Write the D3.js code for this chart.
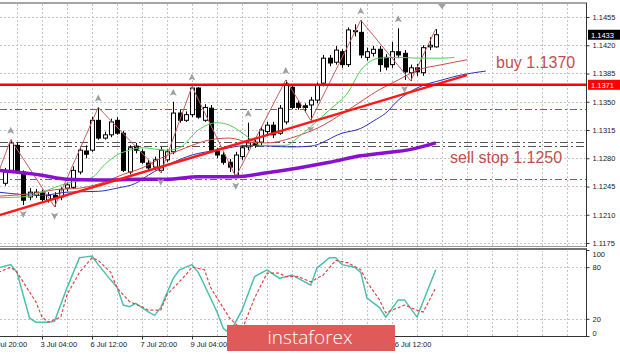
<!DOCTYPE html>
<html>
<head>
<meta charset="utf-8">
<script src="https://cdnjs.cloudflare.com/ajax/libs/d3/7.8.5/d3.min.js"></script>
<style>
body { margin: 0; background: #fff; }
svg { display: block; font-family: "Liberation Sans", Arial, sans-serif; }
</style>
</head>
<body>
<svg id="chart" width="620" height="354"></svg>
<script>
// candles, index 0 = first full bar on the left
const opens = [1.1249,1.1265,1.1296,1.1263,1.1232,1.1234,1.1237,1.1228,1.1234,1.1232,
    1.1243,1.1244,1.1263,1.1289,1.1290,1.1327,1.1305,1.1309,1.1327,1.1311,
    1.1263,1.1295,1.1288,1.1274,1.1269,1.1265,1.1278,1.1288,1.1336,1.1327,
    1.1334,1.1367,1.1327,1.1342,1.1289,1.1284,1.1275,1.1259,1.1282,1.1294,
    1.1300,1.1300,1.1313,1.1321,1.1311,1.1325,1.1368,1.1348,1.1345,1.1346,
    1.1352,1.1373,1.1404,1.1399,1.1412,1.1396,1.1437,1.1436,1.1405,1.1410,
    1.1415,1.1405,1.1396,1.1412,1.1410,1.1386,1.1392,1.1386,1.1418,1.1418];
const highs = [1.1268,1.1303,1.1299,1.1265,1.1243,1.1242,1.1241,1.1238,1.1238,1.1244,
    1.1250,1.1270,1.1294,1.1296,1.1331,1.1343,1.1313,1.1329,1.1331,1.1314,
    1.1296,1.1299,1.1291,1.1278,1.1282,1.1294,1.1291,1.1350,1.1340,1.1338,
    1.1369,1.1368,1.1347,1.1346,1.1293,1.1288,1.1279,1.1288,1.1296,1.1324,
    1.1304,1.1319,1.1325,1.1325,1.1346,1.1377,1.1371,1.1352,1.1348,1.1356,
    1.1374,1.1408,1.1408,1.1419,1.1415,1.1442,1.1446,1.1451,1.1417,1.1419,
    1.1419,1.1409,1.1424,1.1441,1.1414,1.1396,1.1397,1.1420,1.1430,1.1440];
const lows = [1.1246,1.1263,1.1263,1.1222,1.1228,1.1231,1.1226,1.1225,1.1220,1.1228,
    1.1239,1.1242,1.1260,1.1280,1.1288,1.1303,1.1303,1.1306,1.1309,1.1263,
    1.1260,1.1286,1.1273,1.1264,1.1265,1.1262,1.1275,1.1285,1.1324,1.1325,
    1.1331,1.1329,1.1325,1.1288,1.1280,1.1272,1.1263,1.1257,1.1278,1.1290,
    1.1293,1.1296,1.1309,1.1305,1.1309,1.1322,1.1341,1.1340,1.1337,1.1327,
    1.1348,1.1369,1.1394,1.1396,1.1392,1.1393,1.1431,1.1404,1.1401,1.1406,
    1.1387,1.1389,1.1392,1.1404,1.1377,1.1376,1.1382,1.1382,1.1414,1.1417];
const closes = [1.1263,1.1299,1.1265,1.1228,1.1238,1.1238,1.1229,1.1234,1.1231,1.1241,
    1.1247,1.1265,1.1290,1.1285,1.1327,1.1305,1.1309,1.1325,1.1311,1.1265,
    1.1293,1.1290,1.1275,1.1268,1.1278,1.1290,1.1288,1.1336,1.1327,1.1334,
    1.1367,1.1331,1.1343,1.1290,1.1284,1.1275,1.1269,1.1284,1.1293,1.1299,
    1.1296,1.1315,1.1321,1.1309,1.1342,1.1372,1.1343,1.1343,1.1343,1.1352,
    1.1371,1.1404,1.1398,1.1414,1.1396,1.1439,1.1438,1.1408,1.1412,1.1415,
    1.1396,1.1393,1.1412,1.1408,1.1387,1.1392,1.1387,1.1417,1.1420,1.1433];

// indicator lines as [bar index, price]
const maSlow = [[-1,1.1265],[6,1.1259],[10,1.1254],[15,1.1253],[22,1.1254],[26,1.1254],[31,1.1257],
    [37,1.1257],[42,1.1262],[47,1.1268],[52,1.1275],[57,1.1283],[60,1.1286],[65,1.1291],[69,1.1299]];
const jaw = [[-1,1.1238],[6,1.1234],[10,1.1238],[15,1.1239],[18,1.1243],[21,1.1249],[23,1.1259],
    [27,1.1275],[30,1.1284],[34,1.1290],[39,1.1296],[46,1.1294],[49,1.1295],[54,1.1311],[57,1.1317],
    [59,1.1326],[61,1.1336],[63,1.1352],[66,1.1367],[70,1.1377],[73,1.1383],[77,1.1388]];
const teeth = [[-1,1.1233],[5,1.1237],[8,1.1241],[12,1.1243],[15,1.1248],[19,1.1260],[22,1.1268],
    [25,1.1280],[29,1.1293],[33,1.1303],[36,1.1305],[39,1.1300],[42,1.1299],[47,1.1308],[50,1.1317],
    [55,1.1340],[60,1.1365],[63,1.1377],[66,1.1389],[70,1.1396],[74,1.1402]];
const lips = [[-1,1.1231],[4,1.1233],[6,1.1238],[10,1.1249],[14,1.1256],[16,1.1272],[18,1.1284],
    [20,1.1290],[22,1.1293],[26,1.1290],[28,1.1293],[31,1.1315],[34,1.1324],[36,1.1321],[39,1.1306],
    [41,1.1296],[45,1.1296],[47,1.1306],[49,1.1319],[52,1.1340],[55,1.1362],[57,1.1389],[60,1.1404],
    [63,1.1405],[66,1.1404],[70,1.1404],[72,1.1405]];
const zigzag = [[-1,1.1262],[1,1.1303],[8,1.1220],[15,1.1343],[25,1.1262],[30,1.1369],[37,1.1257],
    [45,1.1377],[49,1.1327],[57,1.1451],[65,1.1376],[69,1.1440]];
const fracUp = [1, 15, 27, 30, 39, 45, 57, 63];
const fracDown = [3, 8, 25, 37, 49, 64];

const trendLine = [[-1,1.1209],[74,1.1383]];
const buyLevel = 1.1371;
const greenLevels = [1.1341, 1.1254];
const grayLevels = [1.1300, 1.1295];
const lastPrice = 1.1433;

// stochastic
const stochK = [[-1,79],[1,83],[2,74],[4,21],[5,16],[7,16],[8,17],[10,56],[12,91],[13,92],[14,93],
    [15,83],[17,65],[18,57],[19,36],[20,34],[21,38],[23,28],[24,24],[25,33],[27,67],[28,77],[30,83],
    [31,74],[32,59],[34,28],[35,9],[36,3],[38,30],[40,69],[42,77],[44,67],[46,71],[47,67],[49,59],
    [50,79],[52,91],[53,91],[54,83],[56,80],[57,74],[58,44],[60,33],[61,22],[63,42],[64,42],[66,22],[69,77]];
const stochD = [[-1,74],[1,80],[2,74],[5,40],[6,22],[7,16],[9,22],[10,48],[12,74],[14,91],[15,88],
    [17,74],[18,56],[20,40],[22,34],[23,30],[25,30],[26,48],[29,71],[30,80],[32,77],[33,56],[36,21],
    [38,7],[40,44],[42,73],[44,73],[45,69],[47,69],[49,63],[51,71],[53,88],[55,85],[57,77],[58,63],
    [60,42],[61,27],[63,33],[64,36],[66,30],[67,28],[69,56]];

const priceTicks = [1.1175,1.1210,1.1245,1.1280,1.1315,1.1350,1.1385,1.1420,1.1455];
const oscTicks = [100, 80, 20, 0];
// labels that sit under the logo are not visible in the picture
const timeIdx = [-2, 6, 14, 22, 30, 62];
const timeLabels = ["1 Jul 20:00","3 Jul 04:00","6 Jul 12:00","7 Jul 20:00","9 Jul 04:00","16 Jul 12:00"];

var svg = d3.select("#chart");
var W = 586;

var x = d3.scaleLinear().domain([0, 1]).range([4.5, 10.75]);
var y = d3.scaleLinear().domain([1.1175, 1.1455]).range([243, 17]);
var yo = d3.scaleLinear().domain([0, 100]).range([336, 250]);

var defs = svg.append("defs");
defs.append("clipPath").attr("id", "clipMain")
    .append("rect").attr("x", 0).attr("y", 4).attr("width", W).attr("height", 243);
defs.append("clipPath").attr("id", "clipOsc")
    .append("rect").attr("x", 0).attr("y", 251).attr("width", W).attr("height", 85);

var main = svg.append("g").attr("clip-path", "url(#clipMain)");
var osc = svg.append("g").attr("clip-path", "url(#clipOsc)");

// grid
var vgrid = d3.range(2, 93, 4);
[main, osc].forEach(function (g, k) {
    g.selectAll(".vg").data(vgrid).enter().append("line")
        .attr("x1", d => Math.round(x(d)) + 0.5).attr("x2", d => Math.round(x(d)) + 0.5)
        .attr("y1", k ? 250 : 4).attr("y2", k ? 336 : 247)
        .attr("stroke", "#c4c4c4").attr("stroke-dasharray", "2,2");
});
main.selectAll(".hg").data(priceTicks).enter().append("line")
    .attr("x1", 0).attr("x2", W)
    .attr("y1", d => Math.round(y(d)) + 0.5).attr("y2", d => Math.round(y(d)) + 0.5)
    .attr("stroke", "#c4c4c4").attr("stroke-dasharray", "2,2");
osc.selectAll(".hg").data([80, 20]).enter().append("line")
    .attr("x1", 0).attr("x2", W)
    .attr("y1", d => Math.round(yo(d)) + 0.5).attr("y2", d => Math.round(yo(d)) + 0.5)
    .attr("stroke", "#c4c4c4").attr("stroke-dasharray", "2,2");

// dash-dot levels
main.selectAll(".gl").data(greenLevels).enter().append("line")
    .attr("x1", 0).attr("x2", W)
    .attr("y1", d => Math.round(y(d)) + 0.5).attr("y2", d => Math.round(y(d)) + 0.5)
    .attr("stroke", "#3a8a3a").attr("stroke-dasharray", "7,3,2,3");
main.selectAll(".kl").data(grayLevels).enter().append("line")
    .attr("x1", 0).attr("x2", W)
    .attr("y1", d => Math.round(y(d)) + 0.5).attr("y2", d => Math.round(y(d)) + 0.5)
    .attr("stroke", "#555").attr("stroke-dasharray", "8,3,2,3");

// candles
var bars = main.selectAll(".bar").data(d3.range(opens.length)).enter().append("g");
bars.append("line")
    .attr("x1", i => Math.round(x(i)) + 0.5).attr("x2", i => Math.round(x(i)) + 0.5)
    .attr("y1", i => y(highs[i])).attr("y2", i => y(lows[i]))
    .attr("stroke", "#000");
bars.append("rect")
    .attr("x", i => Math.round(x(i)) - 1.5)
    .attr("y", i => y(Math.max(opens[i], closes[i])))
    .attr("width", 4)
    .attr("height", i => Math.max(1, Math.abs(y(opens[i]) - y(closes[i]))))
    .attr("fill", i => closes[i] >= opens[i] ? "#fff" : "#000")
    .attr("stroke", "#000");

var line = d3.line().x(d => x(d[0])).y(d => y(d[1]));
var smooth = d3.line().x(d => x(d[0])).y(d => y(d[1])).curve(d3.curveMonotoneX);

main.append("path").attr("d", smooth(jaw)).attr("fill", "none").attr("stroke", "#3030c0").attr("stroke-width", 1);
main.append("path").attr("d", smooth(teeth)).attr("fill", "none").attr("stroke", "#d04a4a").attr("stroke-width", 1);
main.append("path").attr("d", smooth(lips)).attr("fill", "none").attr("stroke", "#55cc55").attr("stroke-width", 1);
main.append("path").attr("d", line(zigzag)).attr("fill", "none").attr("stroke", "#c06060").attr("stroke-width", 1);
main.append("path").attr("d", smooth(maSlow)).attr("fill", "none").attr("stroke", "#8a10d0").attr("stroke-width", 3.5);

// fractals
main.selectAll(".fu").data(fracUp).enter().append("path")
    .attr("transform", i => "translate(" + x(i) + "," + (y(highs[i]) - 9) + ")")
    .attr("d", "M0,-4L3.5,3L0,1.5L-3.5,3Z").attr("fill", "#a0a0a0");
main.selectAll(".fd").data(fracDown).enter().append("path")
    .attr("transform", i => "translate(" + x(i) + "," + (y(lows[i]) + 9) + ")")
    .attr("d", "M0,4L3.5,-3L0,-1.5L-3.5,-3Z").attr("fill", "#a0a0a0");
main.append("path")
    .attr("transform", "translate(" + x(70) + ",4)")
    .attr("d", "M-4,0L4,0L0,5Z").attr("fill", "#a0a0a0");

// trend line and buy level
main.append("path").attr("d", line(trendLine)).attr("stroke", "#ff1a1a").attr("stroke-width", 2.5);
main.append("line").attr("x1", 0).attr("x2", W)
    .attr("y1", y(buyLevel)).attr("y2", y(buyLevel))
    .attr("stroke", "#ff0000").attr("stroke-width", 2.5);

main.append("text").attr("x", 496).attr("y", 68).text("buy 1.1370")
    .attr("fill", "#c0504d").style("font-size", "16px");
main.append("text").attr("x", 450).attr("y", 163).text("sell stop 1.1250")
    .attr("fill", "#c0504d").style("font-size", "16px");

// stochastic
var oline = d3.line().x(d => x(d[0])).y(d => yo(d[1]));
osc.append("path").attr("d", oline(stochK)).attr("fill", "none").attr("stroke", "#4cbfae").attr("stroke-width", 1.5);
osc.append("path").attr("d", oline(stochD)).attr("fill", "none").attr("stroke", "#e04545")
    .attr("stroke-width", 1.2).attr("stroke-dasharray", "3,2");

// frames
svg.append("line").attr("x1", 0).attr("x2", W + 1).attr("y1", 3).attr("y2", 3).attr("stroke", "#888").attr("stroke-width", 1.5);
svg.append("line").attr("x1", 0).attr("x2", W + 1).attr("y1", 246.5).attr("y2", 246.5).attr("stroke", "#999");
svg.append("line").attr("x1", 0).attr("x2", W + 1).attr("y1", 249).attr("y2", 249).attr("stroke", "#444").attr("stroke-width", 1.5);
svg.append("line").attr("x1", 0).attr("x2", W + 1).attr("y1", 336.5).attr("y2", 336.5).attr("stroke", "#333");
svg.append("line").attr("x1", W + 0.5).attr("x2", W + 0.5).attr("y1", 3).attr("y2", 247).attr("stroke", "#333");
svg.append("line").attr("x1", W + 0.5).attr("x2", W + 0.5).attr("y1", 249).attr("y2", 337).attr("stroke", "#333");

// price axis
var pAxis = svg.append("g").attr("transform", "translate(" + (W + 0.5) + ",0)")
    .call(d3.axisRight(y).tickValues(priceTicks).tickFormat(d3.format(".4f")).tickSize(3).tickPadding(3));
pAxis.select(".domain").remove();
pAxis.selectAll("text").style("font-size", "7.5px").style("font-family", "Liberation Sans, Arial").attr("fill", "#222");
pAxis.selectAll("line").attr("stroke", "#333");

var oAxis = svg.append("g").attr("transform", "translate(" + (W + 0.5) + ",0)")
    .call(d3.axisRight(yo).tickValues(oscTicks).tickSize(3).tickPadding(3));
oAxis.select(".domain").remove();
oAxis.selectAll("text").style("font-size", "7.5px").style("font-family", "Liberation Sans, Arial").attr("fill", "#222")
    .attr("dy", d => d == 100 ? "0.9em" : (d == 0 ? "-0.1em" : "0.32em"));
oAxis.selectAll("line").attr("stroke", "#333");

// price boxes
[[lastPrice, "#000"], [buyLevel, "#ff0000"]].forEach(function (b) {
    svg.append("rect").attr("x", W + 2).attr("y", y(b[0]) - 5).attr("width", 32).attr("height", 10).attr("fill", b[1]);
    svg.append("text").attr("x", W + 5).attr("y", y(b[0]) + 3).text(d3.format(".4f")(b[0]))
        .attr("fill", "#fff").style("font-size", "7.5px");
});

// time axis
var tAxis = svg.append("g").attr("transform", "translate(0,336.5)")
    .call(d3.axisBottom(x).tickValues(timeIdx).tickFormat((d, i) => timeLabels[i]).tickSize(3).tickPadding(2));
tAxis.select(".domain").remove();
tAxis.selectAll("line").attr("stroke", "#333");
tAxis.selectAll("text").attr("text-anchor", "start").attr("dx", "-2")
    .style("font-size", "7.5px").style("font-family", "Liberation Sans, Arial").attr("fill", "#222");

// logo
svg.append("rect").attr("x", 227).attr("y", 325).attr("width", 168).attr("height", 26).attr("fill", "#e15a5a");
svg.append("text").attr("x", 310).attr("y", 344).attr("text-anchor", "middle").text("instaforex")
    .attr("fill", "#fff").style("font-family", "'Open Sans', sans-serif").style("font-weight", 300).style("font-size", "19px");
</script>
</body>
</html>
